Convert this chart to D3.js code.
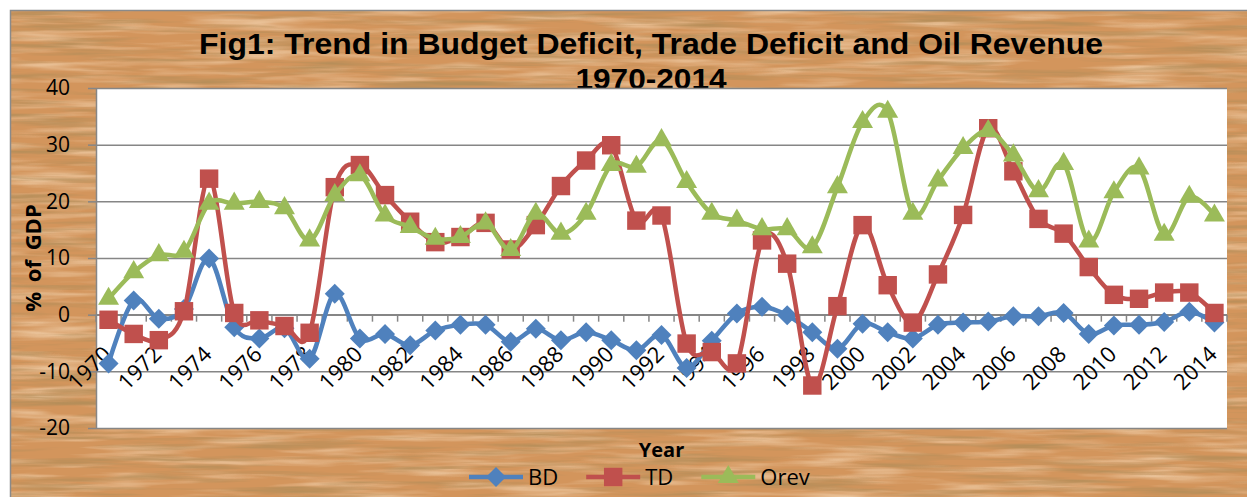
<!DOCTYPE html>
<html>
<head>
<meta charset="utf-8">
<script src="https://cdn.jsdelivr.net/npm/d3@7"></script>
<style>
  body { margin: 0; background: #fff; }
  text { font-family: "Open Sans", "Liberation Sans", sans-serif; fill: #000; }
</style>
</head>
<body>
<div id="chart"></div>
<script>
// categories
const years = [1970, 1971, 1972, 1973, 1974, 1975, 1976, 1977, 1978, 1979,
               1980, 1981, 1982, 1983, 1984, 1985, 1986, 1987, 1988, 1989,
               1990, 1991, 1992, 1993, 1994, 1995, 1996, 1997, 1998, 1999,
               2000, 2001, 2002, 2003, 2004, 2005, 2006, 2007, 2008, 2009,
               2010, 2011, 2012, 2013, 2014];

// Budget deficit (% of GDP)
const bd = [-8.6, 2.5, -0.7, 1.0, 9.9, -2.2, -4.2, -2.4, -7.8, 3.7,
            -4.2, -3.4, -5.4, -2.8, -1.8, -1.8, -4.8, -2.5, -4.5, -3.1,
            -4.5, -6.3, -3.6, -9.4, -4.6, 0.2, 1.4, -0.1, -3.1, -6.0,
            -1.6, -3.1, -4.2, -1.8, -1.4, -1.2, -0.3, -0.3, 0.3, -3.4,
            -1.9, -1.8, -1.3, 0.5, -1.4];

// Trade deficit
const td = [-0.9, -3.4, -4.5, 0.6, 24.0, 0.3, -1.0, -2.0, -3.2, 22.5,
            26.4, 21.1, 16.4, 12.8, 13.7, 16.2, 11.5, 15.8, 22.7, 27.2,
            29.9, 16.6, 17.5, -5.1, -6.6, -8.6, 13.1, 9.0, -12.5, 1.5,
            15.8, 5.2, -1.4, 7.1, 17.6, 32.9, 25.3, 16.9, 14.3, 8.4,
            3.5, 2.8, 3.9, 3.9, 0.3];

// Oil revenue
const orev = [2.8, 7.5, 10.5, 11.1, 19.6, 19.6, 19.9, 18.8, 13.1, 21.1,
              24.6, 17.5, 15.5, 13.4, 13.7, 16.1, 11.4, 17.8, 14.3, 17.8,
              26.4, 26.1, 30.8, 23.4, 17.8, 16.6, 15.1, 15.1, 11.9, 22.5,
              34.0, 35.8, 17.8, 23.7, 29.4, 32.4, 28.1, 21.8, 26.6, 12.9,
              21.6, 25.8, 14.1, 20.8, 17.5];

const yTicks = [-20, -10, 0, 10, 20, 30, 40];
const seriesNames = ["BD", "TD", "Orev"];
const seriesColors = ["#4F81BD", "#C0504D", "#9BBB59"];

const width = 1247, height = 497;
const margin = { top: 88, right: 20, bottom: 69, left: 96 };
const innerWidth = width - margin.left - margin.right;
const innerHeight = height - margin.top - margin.bottom;

const svg = d3.select("#chart").append("svg")
    .attr("width", width)
    .attr("height", height);

// wood texture
const defs = svg.append("defs");
const darkGrain = defs.append("filter").attr("id", "darkGrain")
    .attr("x", 0).attr("y", 0).attr("width", 1).attr("height", 1);
darkGrain.append("feTurbulence")
    .attr("type", "fractalNoise")
    .attr("baseFrequency", "0.008 0.16")
    .attr("numOctaves", 4)
    .attr("seed", 7);
darkGrain.append("feColorMatrix")
    .attr("type", "matrix")
    .attr("values", "0 0 0 0 0.47  0 0 0 0 0.27  0 0 0 0 0.10  2.6 0 0 0 -1.2");

const lightGrain = defs.append("filter").attr("id", "lightGrain")
    .attr("x", 0).attr("y", 0).attr("width", 1).attr("height", 1);
lightGrain.append("feTurbulence")
    .attr("type", "fractalNoise")
    .attr("baseFrequency", "0.01 0.12")
    .attr("numOctaves", 3)
    .attr("seed", 21);
lightGrain.append("feColorMatrix")
    .attr("type", "matrix")
    .attr("values", "0 0 0 0 0.92  0 0 0 0 0.70  0 0 0 0 0.48  1.6 0 0 0 -0.7");

const wood = svg.append("g");
wood.append("rect").attr("x", 10).attr("y", 10)
    .attr("width", width - 10).attr("height", height - 10)
    .attr("fill", "#D3955C");
wood.append("rect").attr("x", 10).attr("y", 10)
    .attr("width", width - 10).attr("height", height - 10)
    .attr("filter", "url(#lightGrain)");
wood.append("rect").attr("x", 10).attr("y", 10)
    .attr("width", width - 10).attr("height", height - 10)
    .attr("filter", "url(#darkGrain)");
wood.append("path")
    .attr("d", `M10.5,${height} V10.5 H${width}`)
    .attr("fill", "none")
    .attr("stroke", "#8a8a8a")
    .attr("stroke-width", 1.5);

// title
const titleX = 651;
svg.append("text")
    .attr("x", titleX).attr("y", 54)
    .attr("text-anchor", "middle")
    .attr("textLength", 904)
    .attr("lengthAdjust", "spacingAndGlyphs")
    .style("font-family", "'Liberation Sans Narrow', 'Liberation Sans', Arial, sans-serif")
    .style("font-weight", "bold")
    .style("font-size", "30px")
    .text("Fig1: Trend in Budget Deficit, Trade Deficit and Oil Revenue");
svg.append("text")
    .attr("x", titleX).attr("y", 89)
    .attr("text-anchor", "middle")
    .attr("textLength", 151)
    .attr("lengthAdjust", "spacingAndGlyphs")
    .style("font-family", "'Liberation Sans Narrow', 'Liberation Sans', Arial, sans-serif")
    .style("font-weight", "bold")
    .style("font-size", "30px")
    .text("1970-2014");

const g = svg.append("g")
    .attr("transform", `translate(${margin.left}, ${margin.top})`);

g.append("rect")
    .attr("width", innerWidth)
    .attr("height", innerHeight)
    .attr("fill", "#fff");

const xScale = d3.scaleBand()
    .domain(years)
    .range([0, innerWidth]);

const yScale = d3.scaleLinear()
    .domain([-20, 40])
    .range([innerHeight, 0]);

const cx = d => xScale(d) + xScale.bandwidth() / 2;
const gridColor = "#868686";

// gridlines
g.append("g")
    .attr("class", "grid")
    .call(d3.axisLeft(yScale).tickValues(yTicks).tickSize(-innerWidth).tickFormat(""))
    .call(s => s.select(".domain").remove())
    .call(s => s.selectAll("line").attr("stroke", gridColor).attr("stroke-width", 1.5));

// y axis
g.append("g")
    .attr("class", "y-axis")
    .call(d3.axisLeft(yScale).tickValues(yTicks).tickSize(8).tickSizeOuter(0).tickPadding(18)
        .tickFormat(d => String(d)))
    .call(s => s.select(".domain").attr("stroke", gridColor).attr("stroke-width", 1.5))
    .call(s => s.selectAll("line").attr("stroke", gridColor).attr("stroke-width", 1.5))
    .call(s => s.selectAll("text")
        .style("font-size", "21px")
        .attr("fill", "#000"));

// x axis on the zero line
const x0 = yScale(0);
const xAxis = g.append("g").attr("class", "x-axis");
xAxis.append("line")
    .attr("x1", 0).attr("x2", innerWidth)
    .attr("y1", x0).attr("y2", x0)
    .attr("stroke", gridColor).attr("stroke-width", 1.5);
xAxis.selectAll(".tick-mark")
    .data(years.concat([null]))
    .join("line")
    .attr("class", "tick-mark")
    .attr("x1", d => d === null ? innerWidth : xScale(d))
    .attr("x2", d => d === null ? innerWidth : xScale(d))
    .attr("y1", x0).attr("y2", x0 + 7)
    .attr("stroke", gridColor).attr("stroke-width", 1.5);
xAxis.selectAll(".tick-label")
    .data(years.filter((d, i) => i % 2 === 0))
    .join("text")
    .attr("class", "tick-label")
    .attr("text-anchor", "end")
    .attr("transform", d => `translate(${cx(d) + 4}, ${x0 + 41}) rotate(-45)`)
    .style("font-size", "22px")
    .text(d => d);

// series
const line = d3.line()
    .x(d => cx(d.year))
    .y(d => yScale(d.value))
    .curve(d3.curveCardinal.tension(0));

const diamond = d3.symbol().type(d3.symbolSquare).size(200)();
const square = d3.symbol().type(d3.symbolSquare).size(340)();
const triangle = d3.symbol().type(d3.symbolTriangle).size(190)();
const shapes = [
    { d: diamond, rot: 45 },
    { d: square, rot: 0 },
    { d: triangle, rot: 0 }
];

const allSeries = [bd, td, orev].map((vals, i) => ({
    name: seriesNames[i],
    color: seriesColors[i],
    shape: shapes[i],
    points: years.map((y, j) => ({ year: y, value: vals[j] }))
}));

allSeries.forEach(s => {
    const sg = g.append("g").attr("class", "series");
    sg.append("path")
        .datum(s.points)
        .attr("fill", "none")
        .attr("stroke", s.color)
        .attr("stroke-width", 4.5)
        .attr("stroke-linejoin", "round")
        .attr("d", line);
    sg.selectAll(".point")
        .data(s.points)
        .join("path")
        .attr("class", "point")
        .attr("d", s.shape.d)
        .attr("fill", s.color)
        .attr("transform", d => `translate(${cx(d.year)}, ${yScale(d.value)}) rotate(${s.shape.rot})`);
});

// axis titles
svg.append("text")
    .attr("transform", `translate(32, ${margin.top + innerHeight / 2}) rotate(-90)`)
    .attr("text-anchor", "middle")
    .attr("dominant-baseline", "central")
    .style("font-weight", "bold")
    .style("font-size", "22px")
    .attr("word-spacing", "4px")
    .text("% of GDP");

svg.append("text")
    .attr("x", margin.left + innerWidth / 2)
    .attr("y", 457)
    .attr("text-anchor", "middle")
    .style("font-weight", "bold")
    .style("font-size", "20px")
    .text("Year");

// legend
const legend = svg.append("g").attr("transform", "translate(469, 477)");
let lx = 0;
allSeries.forEach(s => {
    const item = legend.append("g").attr("transform", `translate(${lx}, 0)`);
    item.append("line")
        .attr("x1", 0).attr("x2", 54)
        .attr("stroke", s.color)
        .attr("stroke-width", 4.5);
    item.append("path")
        .attr("d", s.shape.d)
        .attr("fill", s.color)
        .attr("transform", `translate(27, 0) rotate(${s.shape.rot})`);
    const t = item.append("text")
        .attr("x", 59)
        .attr("dy", "0.35em")
        .style("font-size", "22px")
        .text(s.name);
    lx += 59 + t.node().getComputedTextLength() + 28;
});
</script>
</body>
</html>
